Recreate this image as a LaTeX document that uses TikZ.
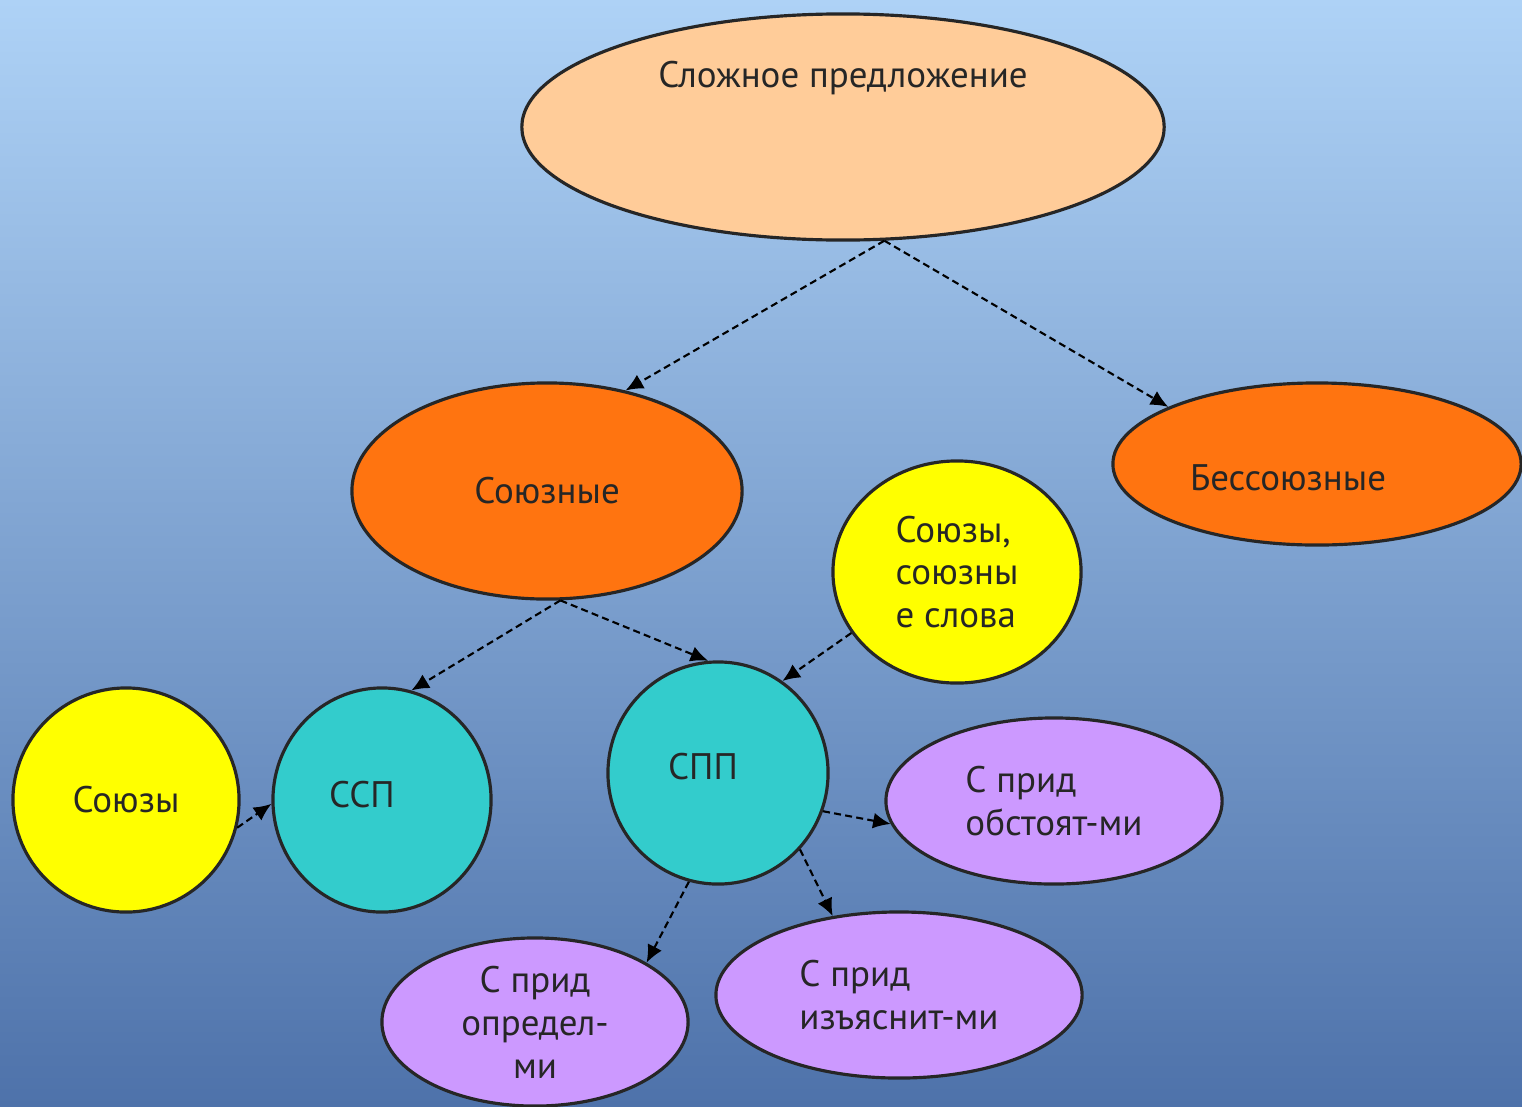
\documentclass[tikz,border=0pt]{standalone}
\usepackage{fontspec}
\setmainfont{PT Sans}
\usetikzlibrary{shapes.geometric,arrows.meta}

\definecolor{peach}{HTML}{FFCC99}
\definecolor{orng}{HTML}{FF7410}
\definecolor{yel}{HTML}{FFFF00}
\definecolor{tealfill}{HTML}{33CCCC}
\definecolor{lilac}{HTML}{CC99FF}
\definecolor{bgtop}{HTML}{AED2F6}
\definecolor{bgbot}{HTML}{4E72AA}

\begin{document}
\begin{tikzpicture}[x=0.01cm,y=-0.01cm,
  blob/.style={ellipse, draw=black!85, line width=0.9pt, inner sep=0pt},
  txt/.style={font=\fontsize{10.5}{12.2}\selectfont, text=black!85},
  lnk/.style={dash pattern=on 2pt off 1.2pt, line width=0.6pt, -{Latex[length=5pt,width=4.5pt]}}]

% background
\shade[top color=bgtop, bottom color=bgbot] (0,0) rectangle (1522,1106);
\useasboundingbox (0,0) rectangle (1522,1106);

% top level
\node[blob, fill=peach, minimum width=6.42cm, minimum height=2.26cm,
      label={[txt, yshift=0.49cm]center:Сложное предложение}] (slozh) at (843,127) {};

% second level
\node[blob, fill=orng, minimum width=3.9cm, minimum height=2.16cm, txt] (soyuz) at (547,491) {Союзные};
\node[blob, fill=orng, minimum width=4.08cm, minimum height=1.62cm,
      label={[txt, xshift=-0.29cm, yshift=-0.14cm]center:Бессоюзные}] (bessoyuz) at (1317,464) {};

% conjunctions
\node[blob, fill=yel, minimum width=2.48cm, minimum height=2.22cm, txt, align=left] (slova) at (957,572) {Союзы,\\союзны\\е слова};
\node[blob, fill=yel, minimum width=2.26cm, minimum height=2.24cm, txt] (soyuzy) at (126,800) {Союзы};

% ССП and СПП
\node[blob, fill=tealfill, minimum width=2.18cm, minimum height=2.24cm,
      label={[txt, xshift=-0.2cm, yshift=0.05cm]center:ССП}] (ssp) at (382,800) {};
\node[blob, fill=tealfill, minimum width=2.2cm, minimum height=2.22cm,
      label={[txt, xshift=-0.15cm, yshift=0.06cm]center:СПП}] (spp) at (718,773) {};

% subordinate clauses
\node[blob, fill=lilac, minimum width=3.36cm, minimum height=1.66cm, txt, align=left] (obst) at (1054,801) {С прид\\обстоят-ми};
\node[blob, fill=lilac, minimum width=3.66cm, minimum height=1.66cm, txt, align=left] (izyas) at (899,995) {С прид\\изъяснит-ми};
\node[blob, fill=lilac, minimum width=3.06cm, minimum height=1.68cm, txt, align=center] (opred) at (535,1022) {С прид\\определ-\\ми};

% arrows
\draw[lnk] (slozh.-70) -- (soyuz.52);
\draw[lnk] (slozh.-70) -- (bessoyuz.159);
\draw[lnk] (soyuz.-83) -- (ssp.75);
\draw[lnk] (soyuz.-83) -- (spp.95);
\draw[lnk] (slova.210) -- (spp.55);
\draw[lnk] (soyuzy.-14) -- (ssp.182);
\draw[lnk] (spp.-20) -- (obst.188);
\draw[lnk] (spp.-43) -- (izyas.130);
\draw[lnk] (spp.-105) -- (opred.28);

\end{tikzpicture}
\end{document}
